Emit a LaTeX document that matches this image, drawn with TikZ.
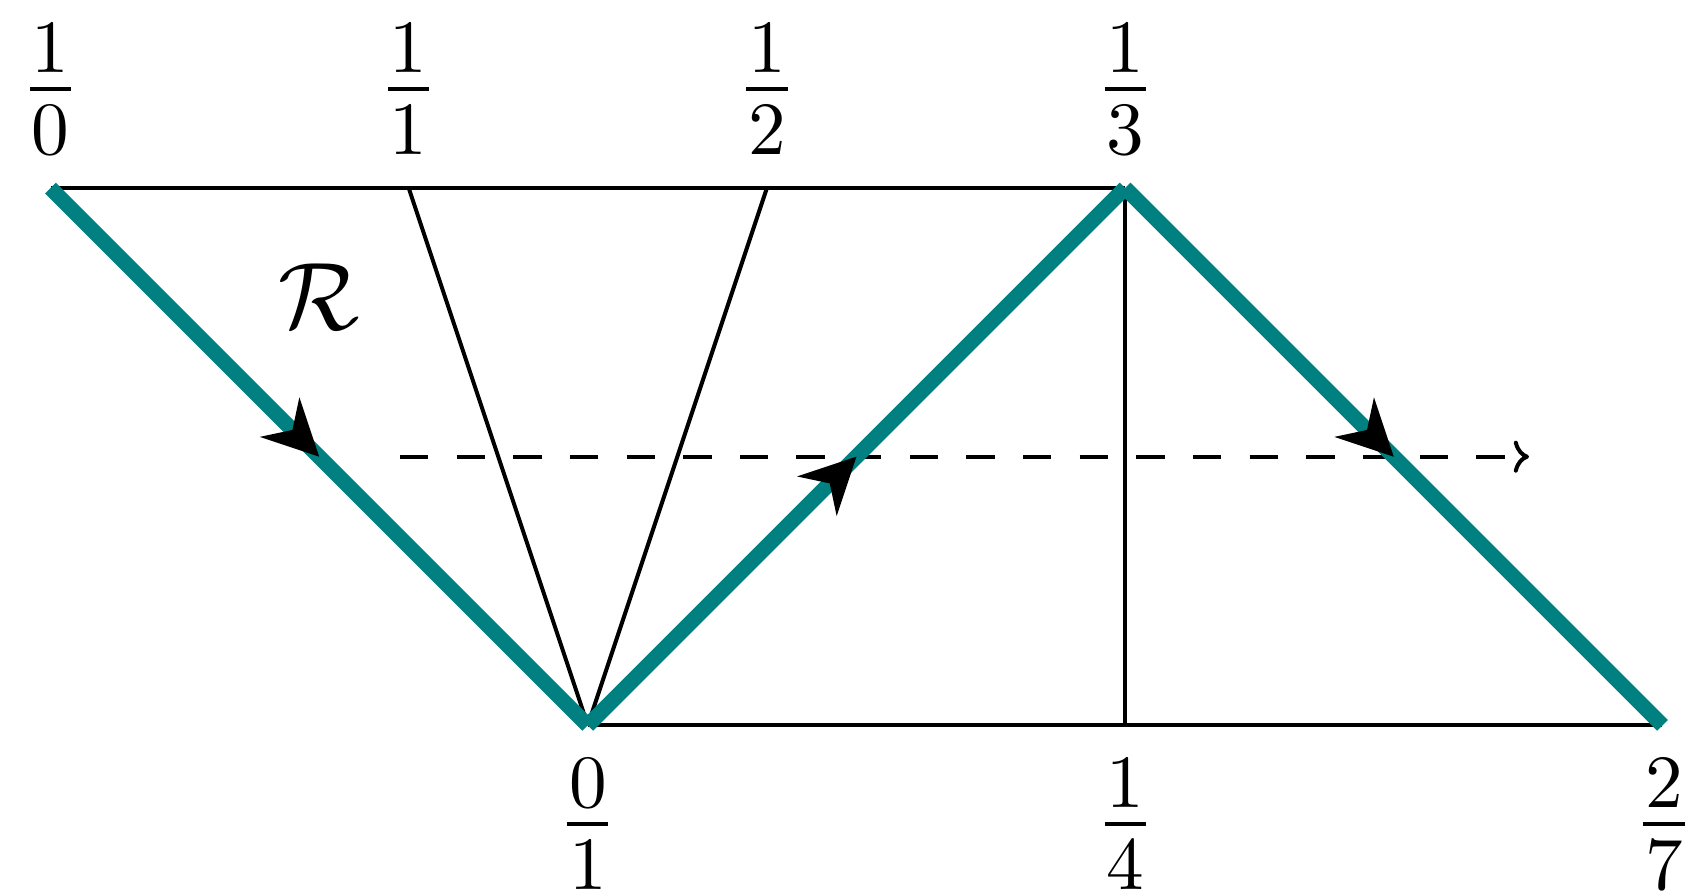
\documentclass[tikz,border=0pt]{standalone}
\usetikzlibrary{arrows.meta,decorations.markings}
\definecolor{tealc}{RGB}{0,128,128}
\font\frfont=cmr10 at 18.8pt
\font\calfont=cmsy10 at 24pt
\newcommand\fr[2]{\vbox{\offinterlineskip\halign{\hfil##\hfil\cr\frfont #1\cr\noalign{\kern3.6pt}\vrule width 10.3pt height 1.15pt depth 0pt\cr\noalign{\kern3.7pt}\frfont #2\cr}}}
\begin{document}
\begin{tikzpicture}[x=0.25pt,y=-0.25pt,
  blk/.style={black, line width=1pt},
  tealseg/.style={draw=tealc, line width=3.8pt, line cap=butt, postaction={decorate},
    decoration={markings, mark=at position 0.5 with {\arrow{Stealth[length=14pt,width=14pt,line width=0pt,black]}}}},
  dasharr/.style={black, line width=1pt, dash pattern=on 7.08pt off 7.08pt,
    -{Computer Modern Rightarrow[length=3.8pt,width=8pt]}},
  lab/.style={inner sep=0pt},
]
\useasboundingbox (0,0) rectangle (1691,893);
\coordinate (A) at (50.5,188);
\coordinate (B) at (408.7,188);
\coordinate (C) at (766.9,188);
\coordinate (D) at (1125.1,188);
\coordinate (E) at (587.8,725.3);
\coordinate (F) at (1125.1,725.3);
\coordinate (G) at (1662.4,725.3);
\draw[blk] (A) -- (D);
\draw[blk] (B) -- (E);
\draw[blk] (C) -- (E);
\draw[blk] (D) -- (F);
\draw[blk] (E) -- (G);
\coordinate (s) at (400,456.65);
\coordinate (t) at (1529,456.65);
\draw[dasharr] (s) -- (t);
\draw[tealseg] (A) -- (E);
\draw[tealseg] (E) -- (D);
\draw[tealseg] (D) -- (G);
\node[lab] (l10) at (50.5,89.3) {\fr{1}{0}};
\node[lab] (l11) at (408.7,89.3) {\fr{1}{1}};
\node[lab] (l12) at (766.9,89.3) {\fr{1}{2}};
\node[lab] (l13) at (1125.1,89.3) {\fr{1}{3}};
\node[lab] (l01) at (587.8,824) {\fr{0}{1}};
\node[lab] (l14) at (1125.1,824) {\fr{1}{4}};
\node[lab] (l27) at (1664,824) {\fr{2}{7}};
\node[inner sep=0pt] (R) at (319,297) {\calfont\char"52};
\end{tikzpicture}
\end{document}
